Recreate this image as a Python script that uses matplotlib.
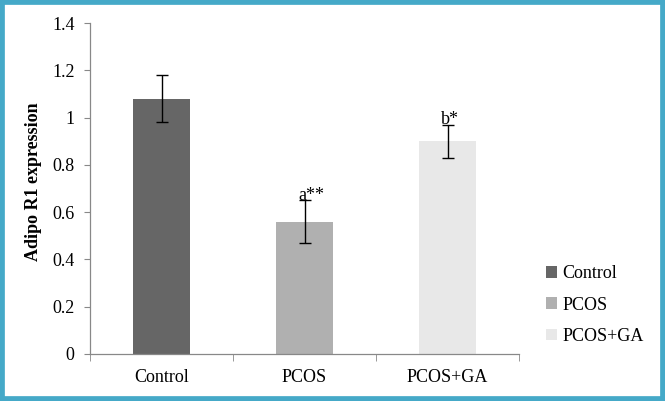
import matplotlib
matplotlib.use("Agg")
import matplotlib.pyplot as plt
from matplotlib.patches import Rectangle, Patch

categories = ["Control", "PCOS", "PCOS+GA"]
values = [1.08, 0.56, 0.90]
errors = [0.10, 0.09, 0.07]
annotations = ["", "a**", "b*"]
colors = ["#666666", "#b0b0b0", "#e8e8e8"]
yticks = [0, 0.2, 0.4, 0.6, 0.8, 1, 1.2, 1.4]
ytick_labels = ["0", "0.2", "0.4", "0.6", "0.8", "1", "1.2", "1.4"]

plt.rcParams['font.family'] = ['Liberation Serif', 'DejaVu Serif']

fig = plt.figure(figsize=(6.65, 4.01), dpi=100)
ax = fig.add_axes([90/665, 1-354/401, 429/665, 331/401])

x = list(range(len(categories)))
ax.bar(x, values, width=0.4, color=colors, zorder=2)
ax.errorbar(x, values, yerr=errors, fmt='none', ecolor='black', elinewidth=1.0,
            capsize=4, capthick=1.0, zorder=3)
for xi, v, e, t in zip(x, values, errors, annotations):
    if t:
        ax.text(xi - 0.045, v + e + 0.002, t, ha='left', va='baseline', fontsize=13)

ax.set_xlim(-0.5, 2.5)
ax.set_ylim(0, 1.4)
ax.set_yticks(yticks)
ax.set_yticklabels(ytick_labels, fontsize=13)
ax.set_xticks(x)
ax.set_xticklabels(categories, fontsize=13)
ax.set_xticks([-0.5, 0.5, 1.5, 2.5], minor=True)
ax.tick_params(axis='x', which='major', length=0, pad=11)
ax.tick_params(axis='x', which='minor', length=5, color='#888888', direction='out')
ax.tick_params(axis='y', length=4, color='#888888', direction='out', pad=7)
for s in ['top', 'right']:
    ax.spines[s].set_visible(False)
for s in ['left', 'bottom']:
    ax.spines[s].set_color('#888888')
    ax.spines[s].set_linewidth(0.9)
ax.set_ylabel("Adipo R1 expression", fontsize=13, fontweight='bold')
ax.yaxis.set_label_coords(-0.112, 0.52)

handles = [Patch(facecolor=c, edgecolor='none') for c in colors]
fig.legend(handles, categories, loc='upper left', bbox_to_anchor=(0.821, 0.338),
           frameon=False, fontsize=13, handlelength=0.6, handleheight=0.6,
           handletextpad=0.3, labelspacing=0.78, borderaxespad=0, borderpad=0)

border = Rectangle((0, 0), 1, 1, transform=fig.transFigure, fill=False,
                   edgecolor='#45a9c8', linewidth=7, clip_on=False)
fig.patches.append(border)

fig.savefig("out.png", dpi=100)
